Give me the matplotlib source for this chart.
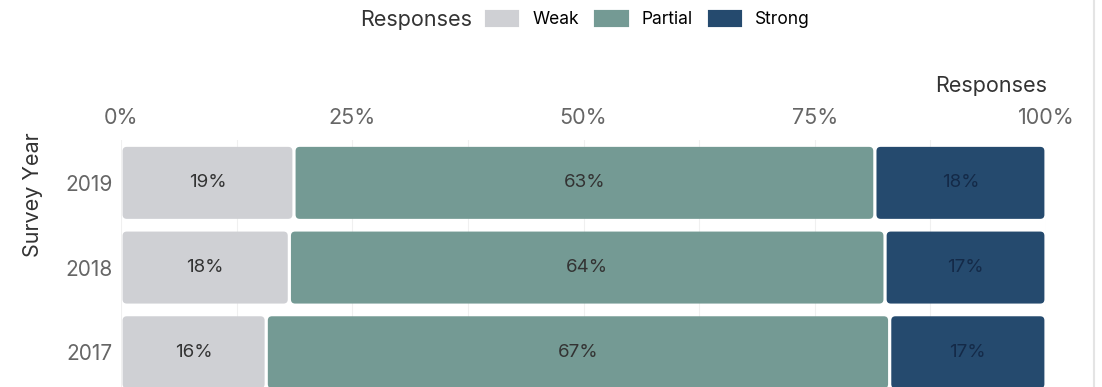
import matplotlib.pyplot as plt
from matplotlib.patches import FancyBboxPatch, Patch

# Share of responses per survey year (percent)
years = ["2017", "2018", "2019"]
weak = [15.7, 18.2, 18.7]
partial = [67.4, 64.4, 62.8]
strong = [16.9, 17.4, 18.5]
categories = ["Weak", "Partial", "Strong"]
colors = ["#cfd0d4", "#749a94", "#254a6e"]
label_colors = ["#333333", "#333333", "#142a48"]
xticks = [0, 25, 50, 75, 100]

plt.rcParams["font.family"] = ["Inter", "DejaVu Sans"]

fig = plt.figure(figsize=(11.02, 3.87), dpi=100)
W, H = 1102, 387
ax = fig.add_axes([121 / W, 0, 925 / W, (387 - 140) / H])

series = [weak, partial, strong]
ypos = list(range(len(years)))
left = [0.0] * len(years)
x_px = 925 / 100
y_px = 85
for vals, color, lc in zip(series, colors, label_colors):
    bars = ax.barh(ypos, vals, left=left, height=0.85, color=color)
    for rect, v in zip(bars, vals):
        x0, y0 = rect.get_x(), rect.get_y()
        w, h = rect.get_width(), rect.get_height()
        rect.set_visible(False)
        gap = 1.6 / x_px
        box = FancyBboxPatch((x0 + gap, y0), w - 2 * gap, h,
                             boxstyle="round,pad=0,rounding_size=0.45",
                             mutation_aspect=x_px / y_px,
                             facecolor=color, edgecolor="none")
        ax.add_patch(box)
        ax.text(x0 + w / 2, y0 + h / 2, f"{round(v)}%", ha="center", va="center",
                fontsize=13.5, color=lc)
    left = [l + v for l, v in zip(left, vals)]

ax.set_xlim(0, 100)
ax.set_ylim(-0.41, 2.506)
ax.set_yticks(ypos)
ax.set_yticklabels(years)
ax.set_xticks(xticks)
ax.set_xticklabels([f"{t}%" for t in xticks])
ax.set_xticks([12.5, 37.5, 62.5, 87.5], minor=True)
ax.xaxis.tick_top()
ax.tick_params(axis="x", which="both", length=0, pad=9, labelsize=15.5, labelcolor="#666666")
ax.tick_params(axis="y", length=0, pad=6, labelsize=15, labelcolor="#666666")
ax.grid(axis="x", which="both", color="#f0f0f0", linewidth=0.8)
ax.set_axisbelow(True)
for s in ax.spines.values():
    s.set_visible(False)

fig.text(1047 / W, 1 - 86 / H, "Responses", ha="right", va="center", fontsize=15.5, color="#333333")
fig.text(33 / W, 1 - 195 / H, "Survey Year", ha="center", va="center", rotation=90,
         fontsize=15.5, color="#333333")

# legend across the top
handles = [Patch(facecolor=c, edgecolor=c, linewidth=3, joinstyle="round") for c in colors]
fig.legend(handles, categories, loc="center left", bbox_to_anchor=(487 / W, 1 - 20 / H),
           ncol=3, frameon=False, fontsize=12.5, handlelength=1.75, handleheight=0.8,
           columnspacing=1.0, handletextpad=0.85, borderpad=0, borderaxespad=0)
fig.text(472 / W, 1 - 20 / H, "Responses", ha="right", va="center", fontsize=15.5, color="#333333")

# thin border on the right edge
fig.add_artist(plt.Line2D([1094 / W, 1094 / W], [0, 1], color="#e4e4e4", linewidth=1.5))

fig.savefig("out.png", dpi=100, facecolor="white")
